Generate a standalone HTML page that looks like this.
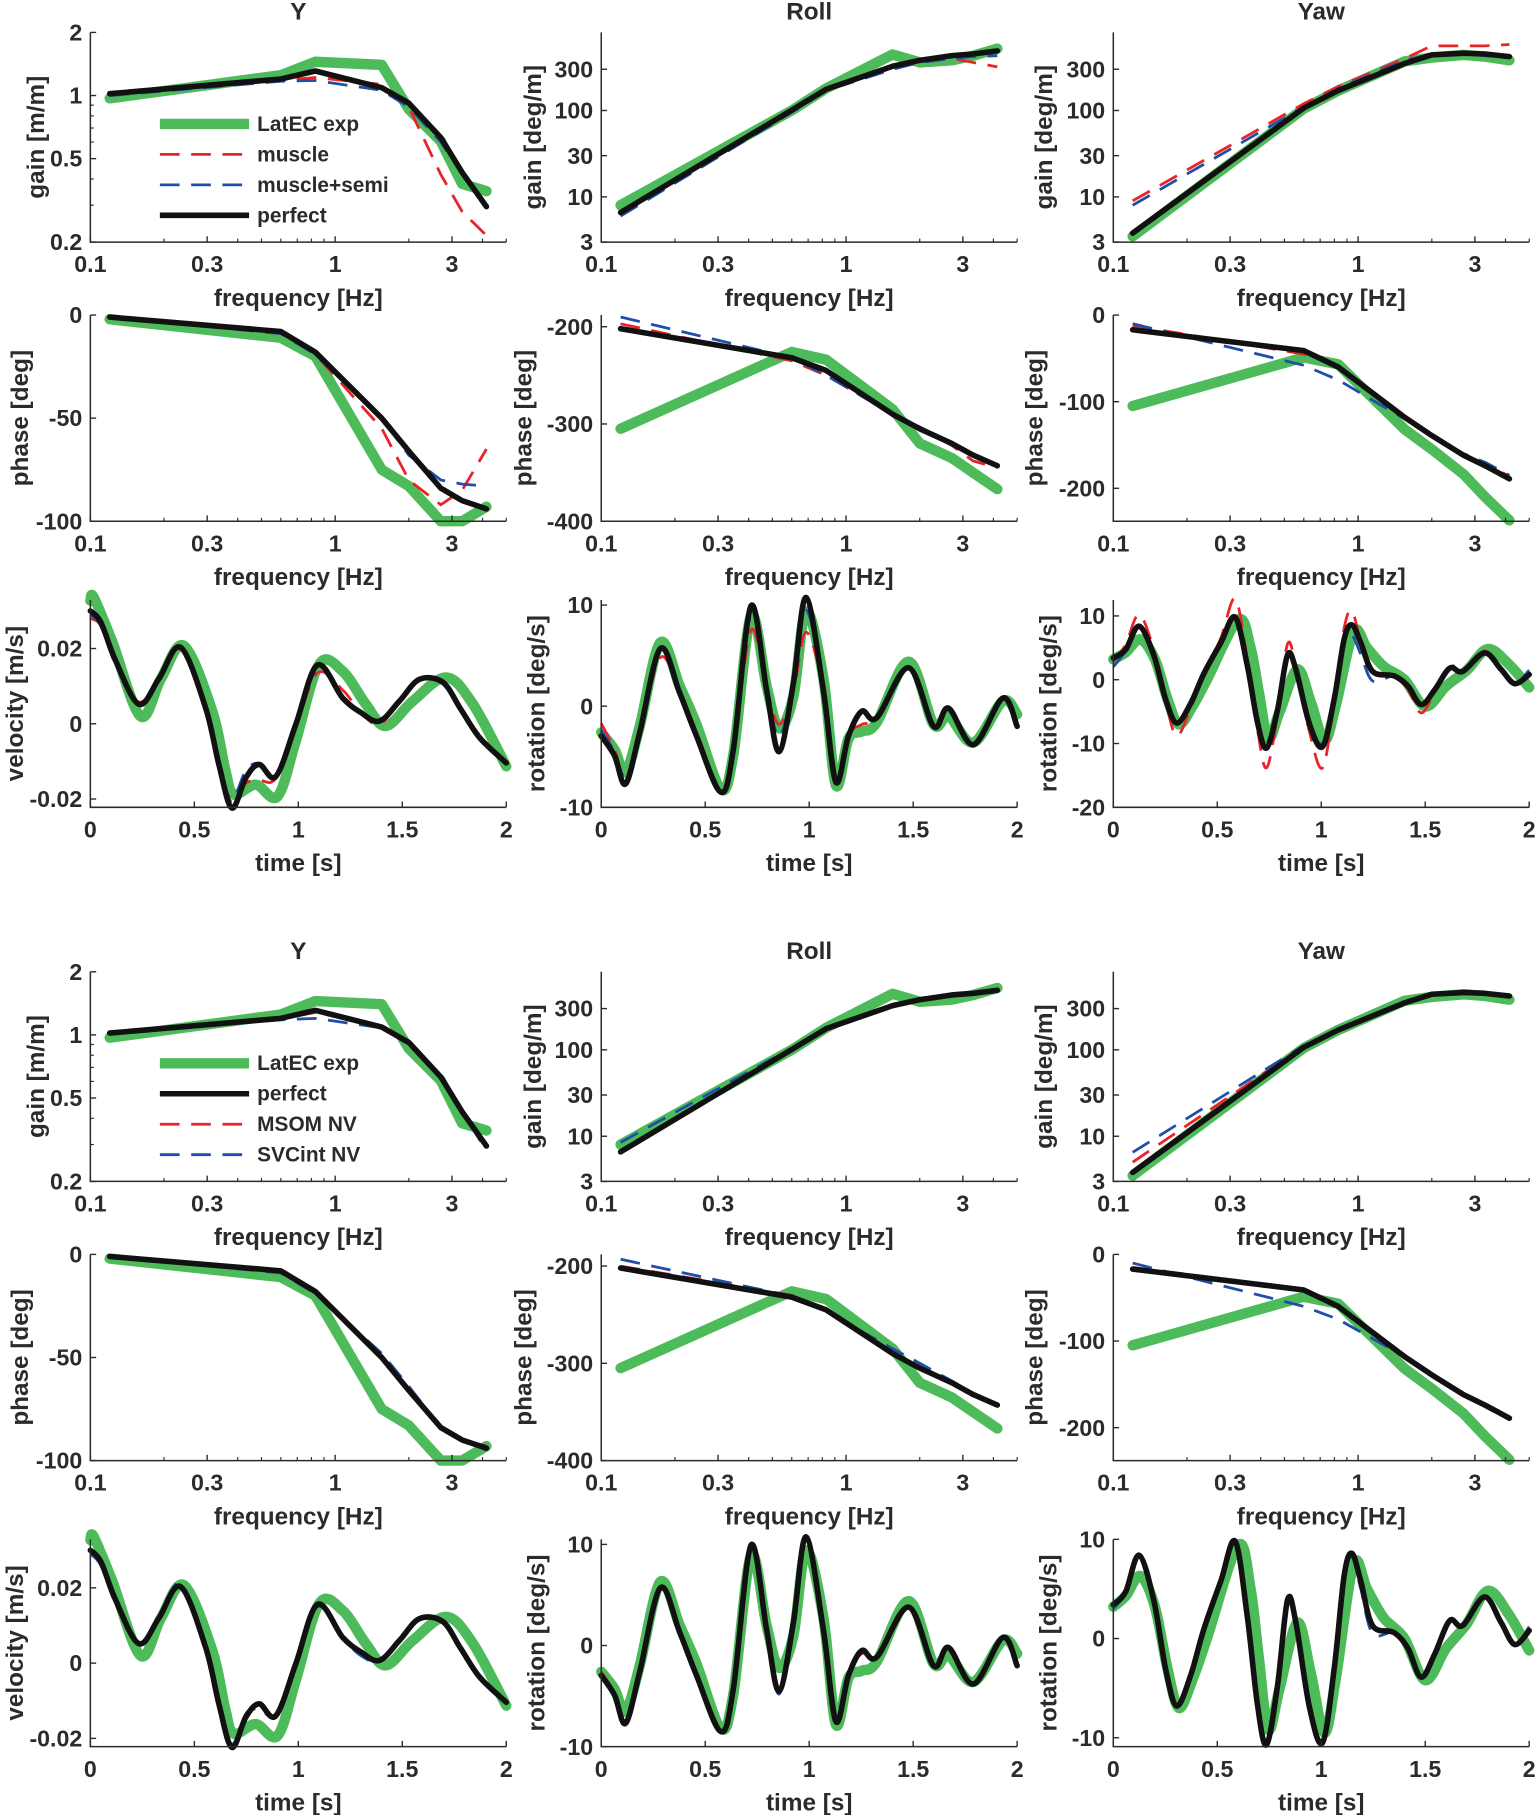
<!DOCTYPE html>
<html><head><meta charset="utf-8"><title>LatEC model comparison</title>
<style>
html,body{margin:0;padding:0;background:#fff;}
svg{display:block;font-family:"Liberation Sans",Arial,sans-serif;}
</style></head>
<body>
<svg id="fig" width="1535" height="1815" viewBox="0 0 1325 1567" preserveAspectRatio="none" xmlns="http://www.w3.org/2000/svg"></svg>
<script>
// ---------- shared frequency points ----------
const freqs = [0.12, 0.6, 0.83, 1.55, 2.0, 2.7, 3.3, 4.15];

// ---------- top block: Y gain ----------
const yGainGreen = [0.97, 1.25, 1.45, 1.4, 0.86, 0.606, 0.379, 0.35];
const yGainBlack = [1.02, 1.2, 1.31, 1.09, 0.92, 0.63, 0.43, 0.295];
const yGainRed   = [1.0, 1.18, 1.22, 1.13, 0.88, 0.42, 0.28, 0.215];
const yGainBlue  = [1.0, 1.17, 1.18, 1.06, 0.88, 0.6, 0.42, 0.3];
// Y phase
const yPhGreen = [-2, -11, -20, -75, -83, -100, -100, -93];
const yPhBlack = [-1, -8, -18, -50, -66, -84, -90, -94];
const yPhRed   = [-1, -9, -19, -55, -80, -92, -85, -65];
const yPhBlue  = [-1, -9, -19, -50, -68, -80, -82, -83];
// Roll gain
const rGainGreen = [8, 100, 180, 445, 360, 380, 430, 520];
const rGainBlack = [6.6, 101, 176, 325, 380, 432, 450, 490];
const rGainRed   = [6.2, 95, 170, 310, 360, 400, 360, 320];
const rGainBlue  = [6.0, 95, 170, 300, 360, 400, 420, 430];
// Roll phase
const rPhGreen = [-305, -226, -234, -285, -320, -335, -350, -367];
const rPhBlack = [-202, -232, -245, -290, -305, -320, -332, -343];
const rPhRed   = [-197, -235, -250, -290, -305, -322, -338, -345];
const rPhBlue  = [-190, -232, -250, -290, -303, -320, -333, -342];
// Yaw gain
const wGainGreen = [3.5, 105, 170, 370, 410, 440, 420, 380];
const wGainBlack = [3.8, 107, 170, 350, 440, 460, 450, 420];
const wGainRed   = [9, 120, 190, 400, 560, 560, 560, 580];
const wGainBlue  = [8, 110, 180, 380, 450, 450, 430, 410];
// Yaw phase
const wPhGreen = [-105, -49, -57, -132, -155, -184, -210, -237];
const wPhBlack = [-17, -41, -60, -118, -139, -162, -174, -189];
const wPhRed   = [-12, -45, -58, -118, -139, -162, -172, -186];
const wPhBlue  = [-10, -58, -75, -120, -139, -160, -170, -185];

// ---------- bottom block overrides (model series) ----------
const yGainRed2  = [1.02, 1.19, 1.28, 1.1, 0.9, 0.62, 0.42, 0.3];
const yGainBlue2 = [1.03, 1.18, 1.2, 1.08, 0.9, 0.64, 0.43, 0.28];
const yPhRed2    = [-1, -8, -18, -51, -66, -84, -90, -93];
const yPhBlue2   = [-1, -9, -19, -48, -64, -84, -90, -95];
const rGainRed2  = [6.5, 100, 175, 320, 378, 430, 450, 490];
const rGainBlue2 = [8.5, 105, 178, 315, 370, 425, 445, 485];
const rPhRed2    = [-200, -230, -246, -288, -303, -320, -332, -342];
const rPhBlue2   = [-193, -231, -247, -285, -300, -318, -331, -342];
const wGainRed2  = [5, 110, 175, 355, 440, 460, 450, 420];
const wGainBlue2 = [6.5, 112, 175, 350, 435, 450, 440, 415];
const wPhRed2    = [-15, -40, -60, -117, -139, -161, -174, -188];
const wPhBlue2   = [-10, -60, -75, -118, -139, -162, -176, -191];

// ---------- time series: Y velocity ----------
const tYk = [0,0.05,0.12,0.233,0.33,0.434,0.554,0.618,0.68,0.747,0.811,0.892,0.988,1.092,1.213,1.30,1.39,1.486,1.582,1.695,1.78,1.872,2.0];
const vYk = [0.030,0.027,0.017,0.0052,0.012,0.0203,0.0043,-0.0108,-0.0224,-0.0144,-0.0108,-0.014,-0.0002,0.0156,0.0069,0.003,0.0007,0.006,0.0118,0.011,0.004,-0.0037,-0.0104];
const vYr = [0.028,0.026,0.016,0.0058,0.012,0.0198,0.0045,-0.010,-0.021,-0.0158,-0.015,-0.0145,-0.001,0.0135,0.009,0.003,-0.0002,0.006,0.0115,0.0115,0.004,-0.003,-0.0105];
const vYb = [0.029,0.026,0.016,0.0055,0.012,0.020,0.0045,-0.011,-0.020,-0.0125,-0.0105,-0.014,-0.0003,0.0145,0.007,0.003,0.0005,0.006,0.0115,0.011,0.004,-0.0035,-0.0104];
const vYr2 = [0.030,0.027,0.017,0.0055,0.012,0.0205,0.0045,-0.0105,-0.022,-0.0135,-0.0115,-0.0135,0.0,0.0155,0.0072,0.0025,0.0005,0.006,0.0118,0.0112,0.004,-0.0035,-0.0104];
const vYb2 = [0.029,0.026,0.016,0.0052,0.012,0.0212,0.0045,-0.0105,-0.0215,-0.014,-0.012,-0.014,-0.0002,0.015,0.0068,0.002,0.0005,0.006,0.0118,0.0112,0.004,-0.0037,-0.0104];
const tYg = [0,0.016,0.104,0.241,0.34,0.45,0.586,0.65,0.69,0.795,0.9,0.988,1.1,1.213,1.325,1.42,1.55,1.711,1.84,2.0];
const vYg = [0.0327,0.0336,0.022,0.002,0.012,0.0207,0.0034,-0.0126,-0.0188,-0.0162,-0.0193,-0.0046,0.0158,0.014,0.0052,-0.0006,0.006,0.0123,0.0052,-0.0113];

// ---------- time series: Roll rotation ----------
const tRk = [0,0.064,0.117,0.185,0.284,0.377,0.458,0.575,0.635,0.72,0.795,0.855,0.924,0.985,1.068,1.128,1.189,1.253,1.325,1.478,1.598,1.67,1.79,1.931,2.0];
const vRk = [-2.95,-4.9,-7.7,-2.6,5.7,1.3,-2.95,-8.5,-4.3,9.9,1.6,-4.5,2.3,10.75,1.6,-7.5,-2.95,-0.5,-1.15,3.8,-2.0,-0.2,-3.8,0.8,-2.0];
const vRg = [-2.6,-4.3,-6.5,-2.0,6.3,2.0,-1.8,-8.2,-4.8,8.9,2.0,-2.2,1.0,9.4,2.8,-7.8,-3.2,-2.5,-1.6,4.4,-1.8,-1.0,-3.6,0.5,-0.8];
const vRr = [-1.7,-4.3,-7.2,-2.6,4.8,1.5,-2.5,-8.3,-4.3,7.5,1.8,-1.8,1.5,7.3,1.8,-7.2,-2.9,-1.8,-1.2,3.6,-1.8,-0.4,-3.6,0.8,-1.5];
const vRb = [-2.4,-4.5,-7.0,-2.6,5.5,1.3,-2.9,-8.4,-4.3,9.0,1.8,-3.0,2.2,9.5,1.8,-7.2,-2.9,-0.4,-1.0,3.7,-1.9,-0.3,-3.7,0.8,-1.8];
const vRr2 = [-2.6,-4.7,-7.5,-2.6,5.5,1.3,-2.9,-8.4,-4.3,9.6,1.6,-4.2,2.3,10.9,1.6,-7.4,-2.9,-0.8,-1.2,3.6,-2.0,-0.3,-3.8,0.9,-2.0];
const vRb2 = [-2.8,-4.8,-7.6,-2.6,5.6,1.3,-2.9,-8.5,-4.3,9.8,1.6,-4.8,2.3,10.6,1.6,-7.5,-2.9,-0.3,-1.1,3.8,-2.0,-0.2,-3.8,0.8,-2.2];

// ---------- time series: Yaw rotation ----------
const tWk = [0,0.059,0.124,0.196,0.252,0.305,0.372,0.436,0.517,0.586,0.645,0.694,0.737,0.79,0.838,0.878,0.942,1.006,1.062,1.11,1.147,1.19,1.247,1.35,1.417,1.48,1.545,1.617,1.68,1.785,1.865,1.93,2.0];
const vWk = [3.4,4.7,8.4,3.7,-3.1,-6.8,-3.7,1.0,5.8,9.8,2.1,-6.8,-10.7,-4.7,3.9,1.6,-6.8,-10.5,-3.1,6.3,8.6,5.8,1.3,0.6,-1.0,-3.9,-1.6,1.8,1.3,4.2,1.6,-0.6,0.8];
const vWr = [2.8,5.5,10.2,4.5,-3.5,-8.8,-4.5,1.0,6.5,12.7,3.0,-8.0,-13.8,-5.5,5.6,2.0,-8.0,-13.8,-3.5,8.0,10.8,6.0,1.0,0.6,-1.5,-5.2,-2.0,2.2,1.3,4.5,1.6,-0.8,0.8];
const vWb = [2.0,4.5,8.2,3.7,-3.0,-6.5,-3.7,1.0,5.8,9.8,2.1,-6.5,-10.0,-4.5,4.0,1.6,-6.5,-10.0,-3.0,6.0,7.0,4.0,-0.2,0.6,-1.0,-3.9,-1.6,1.8,1.3,4.2,1.6,-0.6,1.5];
const vWr2 = [3.2,4.8,8.2,3.8,-3.0,-6.7,-3.6,1.0,5.7,9.7,2.1,-6.7,-10.4,-4.6,3.8,1.6,-6.7,-10.3,-3.0,6.2,8.4,5.7,1.2,0.6,-1.0,-3.8,-1.5,1.9,1.3,4.1,1.6,-0.5,0.6];
const vWb2 = [3.0,4.6,8.3,3.6,-3.0,-6.6,-3.6,1.0,5.9,9.6,2.0,-6.6,-10.2,-4.5,3.8,1.5,-6.6,-10.2,-3.0,6.0,8.2,5.0,0.5,0.6,-1.0,-3.8,-1.5,1.8,1.3,4.2,1.6,-0.6,1.2];
const tWg = [0,0.06,0.13,0.2,0.26,0.315,0.38,0.45,0.6,0.66,0.70,0.745,0.8,0.885,0.95,1.015,1.07,1.155,1.22,1.3,1.4,1.5,1.6,1.7,1.8,1.9,2.0];
const vWg = [3.2,4.3,6.3,3.2,-3.0,-7.0,-4.2,0.0,9.4,5.0,-2.0,-9.2,-5.0,1.6,-3.5,-9.5,-4.0,7.5,5.0,2.1,0.0,-4.2,-1.0,1.5,4.8,2.5,-1.2];

// ---------- tick labels ----------
const freqTickVals = [0.1, 0.3, 1, 3];
const freqTickLabels = ["0.1", "0.3", "1", "3"];
const timeTickVals = [0, 0.5, 1, 1.5, 2];
const timeTickLabels = ["0", "0.5", "1", "1.5", "2"];
const yGainTicks = [0.2, 0.5, 1, 2];
const degGainTicks = [3, 10, 30, 100, 300];
const yPhTicks = [-100, -50, 0];
const rPhTicks = [-400, -300, -200];
const wPhTicks = [-200, -100, 0];
const velTicks = [-0.02, 0, 0.02];
const velTickLabels = ["-0.02", "0", "0.02"];
const rollTTicks = [-10, 0, 10];
const yawTTicks = [-20, -10, 0, 10];
const yawTTicks2 = [-10, 0, 10];

const NS = "http://www.w3.org/2000/svg";
const svg = document.getElementById("fig");
const AX = "#2b2b2b";
const GREEN = "#4dbb5a", RED = "#e8232a", BLUE = "#1f4fa8", BLACK = "#111";

function mk(tag, attrs, parent) {
  const el = document.createElementNS(NS, tag);
  for (const k in attrs) el.setAttribute(k, attrs[k]);
  (parent || svg).appendChild(el);
  return el;
}
function scale(type, dmin, dmax, pmin, pmax) {
  if (type === "log") {
    const a = Math.log10(dmin), b = Math.log10(dmax);
    return v => pmin + (Math.log10(v) - a) / (b - a) * (pmax - pmin);
  }
  return v => pmin + (v - dmin) / (dmax - dmin) * (pmax - pmin);
}
function smoothPath(p) {
  let d = "M" + p[0][0].toFixed(1) + "," + p[0][1].toFixed(1);
  for (let i = 0; i < p.length - 1; i++) {
    const p0 = p[i - 1] || p[i], p1 = p[i], p2 = p[i + 1], p3 = p[i + 2] || p2;
    const c1 = [p1[0] + (p2[0] - p0[0]) / 6, p1[1] + (p2[1] - p0[1]) / 6];
    const c2 = [p2[0] - (p3[0] - p1[0]) / 6, p2[1] - (p3[1] - p1[1]) / 6];
    d += " C" + c1[0].toFixed(1) + "," + c1[1].toFixed(1) + " " + c2[0].toFixed(1) + "," + c2[1].toFixed(1) + " " + p2[0].toFixed(1) + "," + p2[1].toFixed(1);
  }
  return d;
}
function linePath(p) {
  return p.map((q, i) => (i ? "L" : "M") + q[0].toFixed(1) + "," + q[1].toFixed(1)).join(" ");
}
const STY = {
  green: {stroke: GREEN, "stroke-width": 9},
  black: {stroke: BLACK, "stroke-width": 4.8},
  red: {stroke: RED, "stroke-width": 2.4, "stroke-dasharray": "17 10"},
  blue: {stroke: BLUE, "stroke-width": 2.4, "stroke-dasharray": "17 10"}
};

function panel(c) {
  const g = mk("g", {});
  
  
  const sx = scale(c.xType, c.xMin, c.xMax, c.x0, c.x1);
  const sy = scale(c.yType, c.yMin, c.yMax, c.y1, c.y0);
  c.series.forEach(s => {
    const pts = s.xs.map((x, i) => [sx(x), sy(s.ys[i])]);
    const attrs = Object.assign({d: c.smooth ? smoothPath(pts) : linePath(pts), fill: "none", "stroke-linejoin": "round", "stroke-linecap": s.kind === "red" || s.kind === "blue" ? "butt" : "round"}, STY[s.kind]);
    const p = mk("path", attrs, g);
    
    
  });
  const ax = mk("path", {d: `M${c.x0},${c.y0} L${c.x0},${c.y1} L${c.x1},${c.y1}`, fill: "none", stroke: AX, "stroke-width": 1.3}, g);
  
  
  c.xTicks.forEach((v, i) => {
    const x = sx(v);
    mk("line", {x1: x, x2: x, y1: c.y1, y2: c.y1 - 5, stroke: AX, "stroke-width": 1.2}, g);
    const t = mk("text", {x: x, y: c.y1 + 26, "text-anchor": "middle", "font-size": 20, "font-weight": "bold", fill: AX}, g);
    t.textContent = c.xLabels[i];
    
    
  });
  if (c.xType === "log") {
    [0.2,0.4,0.5,0.6,0.7,0.8,0.9,2,4,5].forEach(v => {
      const x = sx(v);
      mk("line", {x1: x, x2: x, y1: c.y1, y2: c.y1 - 3, stroke: AX, "stroke-width": 1}, g);
    });
  }
  c.yTicks.forEach((v, i) => {
    const y = sy(v);
    mk("line", {x1: c.x0, x2: c.x0 + 5, y1: y, y2: y, stroke: AX, "stroke-width": 1.2}, g);
    const t = mk("text", {x: c.x0 - 7, y: y + 7, "text-anchor": "end", "font-size": 20, "font-weight": "bold", fill: AX}, g);
    t.textContent = c.yLabels ? c.yLabels[i] : String(v);
    
    
  });
  if (c.yMinor) c.yMinor.forEach(v => {
    const y = sy(v);
    mk("line", {x1: c.x0, x2: c.x0 + 3, y1: y, y2: y, stroke: AX, "stroke-width": 1}, g);
  });
  const xl = mk("text", {x: (c.x0 + c.x1) / 2, y: c.y1 + 55, "text-anchor": "middle", "font-size": 21, "font-weight": "bold", fill: AX}, g);
  xl.textContent = c.xlabel;
  
  
  const cy = (c.y0 + c.y1) / 2;
  const yl = mk("text", {x: c.ylx, y: cy, "text-anchor": "middle", "font-size": 21, "font-weight": "bold", fill: AX, transform: `rotate(-90 ${c.ylx} ${cy})`}, g);
  yl.textContent = c.ylabel;
  
  
  if (c.title) {
    const tt = mk("text", {x: (c.x0 + c.x1) / 2, y: c.y0 - 11, "text-anchor": "middle", "font-size": 21, "font-weight": "bold", fill: AX}, g);
    tt.textContent = c.title;
    
    
  }
}

const COLS = [[78, 437], [519, 878], [961, 1320]];
function block(off, sets, legendLabels, legendOrder) {
  const rows = [[28, 209], [272, 450], [518, 697]].map(r => [r[0] + off, r[1] + off]);
  const fser = (g, k, r, b) => [
    {kind: "green", label: "latec-exp", xs: freqs, ys: g},
    {kind: "red", label: "model-red", xs: freqs, ys: r},
    {kind: "blue", label: "model-blue", xs: freqs, ys: b},
    {kind: "black", label: "perfect", xs: freqs, ys: k}];
  const F = {xType: "log", xMin: 0.1, xMax: 5, xTicks: freqTickVals, xLabels: freqTickLabels, xlabel: "frequency [Hz]"};
  const T = {xType: "lin", xMin: 0, xMax: 2, xTicks: timeTickVals, xLabels: timeTickLabels, xlabel: "time [s]", smooth: true};
  const s = sets;
  panel(Object.assign({}, F, {name: "y-gain" + off, x0: COLS[0][0], x1: COLS[0][1], y0: rows[0][0], y1: rows[0][1], yType: "log", yMin: 0.2, yMax: 2, yTicks: yGainTicks, yMinor: [0.3,0.4,0.6,0.7,0.8,0.9], ylabel: "gain [m/m]", ylx: 38, title: "Y", series: fser(yGainGreen, yGainBlack, s.yGR, s.yGB)}));
  panel(Object.assign({}, F, {name: "y-phase" + off, x0: COLS[0][0], x1: COLS[0][1], y0: rows[1][0], y1: rows[1][1], yType: "lin", yMin: -100, yMax: 0, yTicks: yPhTicks, ylabel: "phase [deg]", ylx: 24, series: fser(yPhGreen, yPhBlack, s.yPR, s.yPB)}));
  panel(Object.assign({}, T, {name: "y-velocity" + off, x0: COLS[0][0], x1: COLS[0][1], y0: rows[2][0], y1: rows[2][1], yType: "lin", yMin: -0.0222, yMax: 0.0329, yTicks: velTicks, yLabels: velTickLabels, ylabel: "velocity [m/s]", ylx: 20,
    series: [{kind: "green", label: "latec-exp", xs: tYg, ys: vYg}, {kind: "red", label: "model-red", xs: tYk, ys: s.vYR}, {kind: "blue", label: "model-blue", xs: tYk, ys: s.vYB}, {kind: "black", label: "perfect", xs: tYk, ys: vYk}]}));
  panel(Object.assign({}, F, {name: "roll-gain" + off, x0: COLS[1][0], x1: COLS[1][1], y0: rows[0][0], y1: rows[0][1], yType: "log", yMin: 3, yMax: 800, yTicks: degGainTicks, ylabel: "gain [deg/m]", ylx: 467, title: "Roll", series: fser(rGainGreen, rGainBlack, s.rGR, s.rGB)}));
  panel(Object.assign({}, F, {name: "roll-phase" + off, x0: COLS[1][0], x1: COLS[1][1], y0: rows[1][0], y1: rows[1][1], yType: "lin", yMin: -400, yMax: -188, yTicks: rPhTicks, ylabel: "phase [deg]", ylx: 459, series: fser(rPhGreen, rPhBlack, s.rPR, s.rPB)}));
  panel(Object.assign({}, T, {name: "roll-rotation" + off, x0: COLS[1][0], x1: COLS[1][1], y0: rows[2][0], y1: rows[2][1], yType: "lin", yMin: -10, yMax: 10.5, yTicks: rollTTicks, ylabel: "rotation [deg/s]", ylx: 470,
    series: [{kind: "green", label: "latec-exp", xs: tRk, ys: vRg}, {kind: "red", label: "model-red", xs: tRk, ys: s.vRR}, {kind: "blue", label: "model-blue", xs: tRk, ys: s.vRB}, {kind: "black", label: "perfect", xs: tRk, ys: vRk}]}));
  panel(Object.assign({}, F, {name: "yaw-gain" + off, x0: COLS[2][0], x1: COLS[2][1], y0: rows[0][0], y1: rows[0][1], yType: "log", yMin: 3, yMax: 800, yTicks: degGainTicks, ylabel: "gain [deg/m]", ylx: 908, title: "Yaw", series: fser(wGainGreen, wGainBlack, s.wGR, s.wGB)}));
  panel(Object.assign({}, F, {name: "yaw-phase" + off, x0: COLS[2][0], x1: COLS[2][1], y0: rows[1][0], y1: rows[1][1], yType: "lin", yMin: -238, yMax: 0, yTicks: wPhTicks, ylabel: "phase [deg]", ylx: 900, series: fser(wPhGreen, wPhBlack, s.wPR, s.wPB)}));
  panel(Object.assign({}, T, {name: "yaw-rotation" + off, x0: COLS[2][0], x1: COLS[2][1], y0: rows[2][0], y1: rows[2][1], yType: "lin", yMin: s.yawMin, yMax: s.yawMax, yTicks: s.yawTicks, ylabel: "rotation [deg/s]", ylx: 912,
    series: [{kind: "green", label: "latec-exp", xs: tWg, ys: vWg}, {kind: "red", label: "model-red", xs: tWk, ys: s.vWR}, {kind: "blue", label: "model-blue", xs: tWk, ys: s.vWB}, {kind: "black", label: "perfect", xs: tWk, ys: vWk}]}));
  const lg = mk("g", {});
  
  
  legendOrder.forEach((kind, i) => {
    const y = 107 + off + i * 26.3;
    mk("line", Object.assign({x1: 138, x2: 215, y1: y, y2: y}, STY[kind]), lg);
    const t = mk("text", {x: 222, y: y + 6, "font-size": 18, "font-weight": "bold", fill: AX}, lg);
    t.textContent = legendLabels[i];
    
    
  });
}

block(0, {yGR: yGainRed, yGB: yGainBlue, yPR: yPhRed, yPB: yPhBlue, rGR: rGainRed, rGB: rGainBlue, rPR: rPhRed, rPB: rPhBlue, wGR: wGainRed, wGB: wGainBlue, wPR: wPhRed, wPB: wPhBlue,
  vYR: vYr, vYB: vYb, vRR: vRr, vRB: vRb, vWR: vWr, vWB: vWb, yawMin: -20, yawMax: 12.5, yawTicks: yawTTicks},
  ["LatEC exp", "muscle", "muscle+semi", "perfect"], ["green", "red", "blue", "black"]);
block(811, {yGR: yGainRed2, yGB: yGainBlue2, yPR: yPhRed2, yPB: yPhBlue2, rGR: rGainRed2, rGB: rGainBlue2, rPR: rPhRed2, rPB: rPhBlue2, wGR: wGainRed2, wGB: wGainBlue2, wPR: wPhRed2, wPB: wPhBlue2,
  vYR: vYr2, vYB: vYb2, vRR: vRr2, vRB: vRb2, vWR: vWr2, vWB: vWb2, yawMin: -10.9, yawMax: 10, yawTicks: yawTTicks2},
  ["LatEC exp", "perfect", "MSOM NV", "SVCint NV"], ["green", "black", "red", "blue"]);
</script>
</body></html>
